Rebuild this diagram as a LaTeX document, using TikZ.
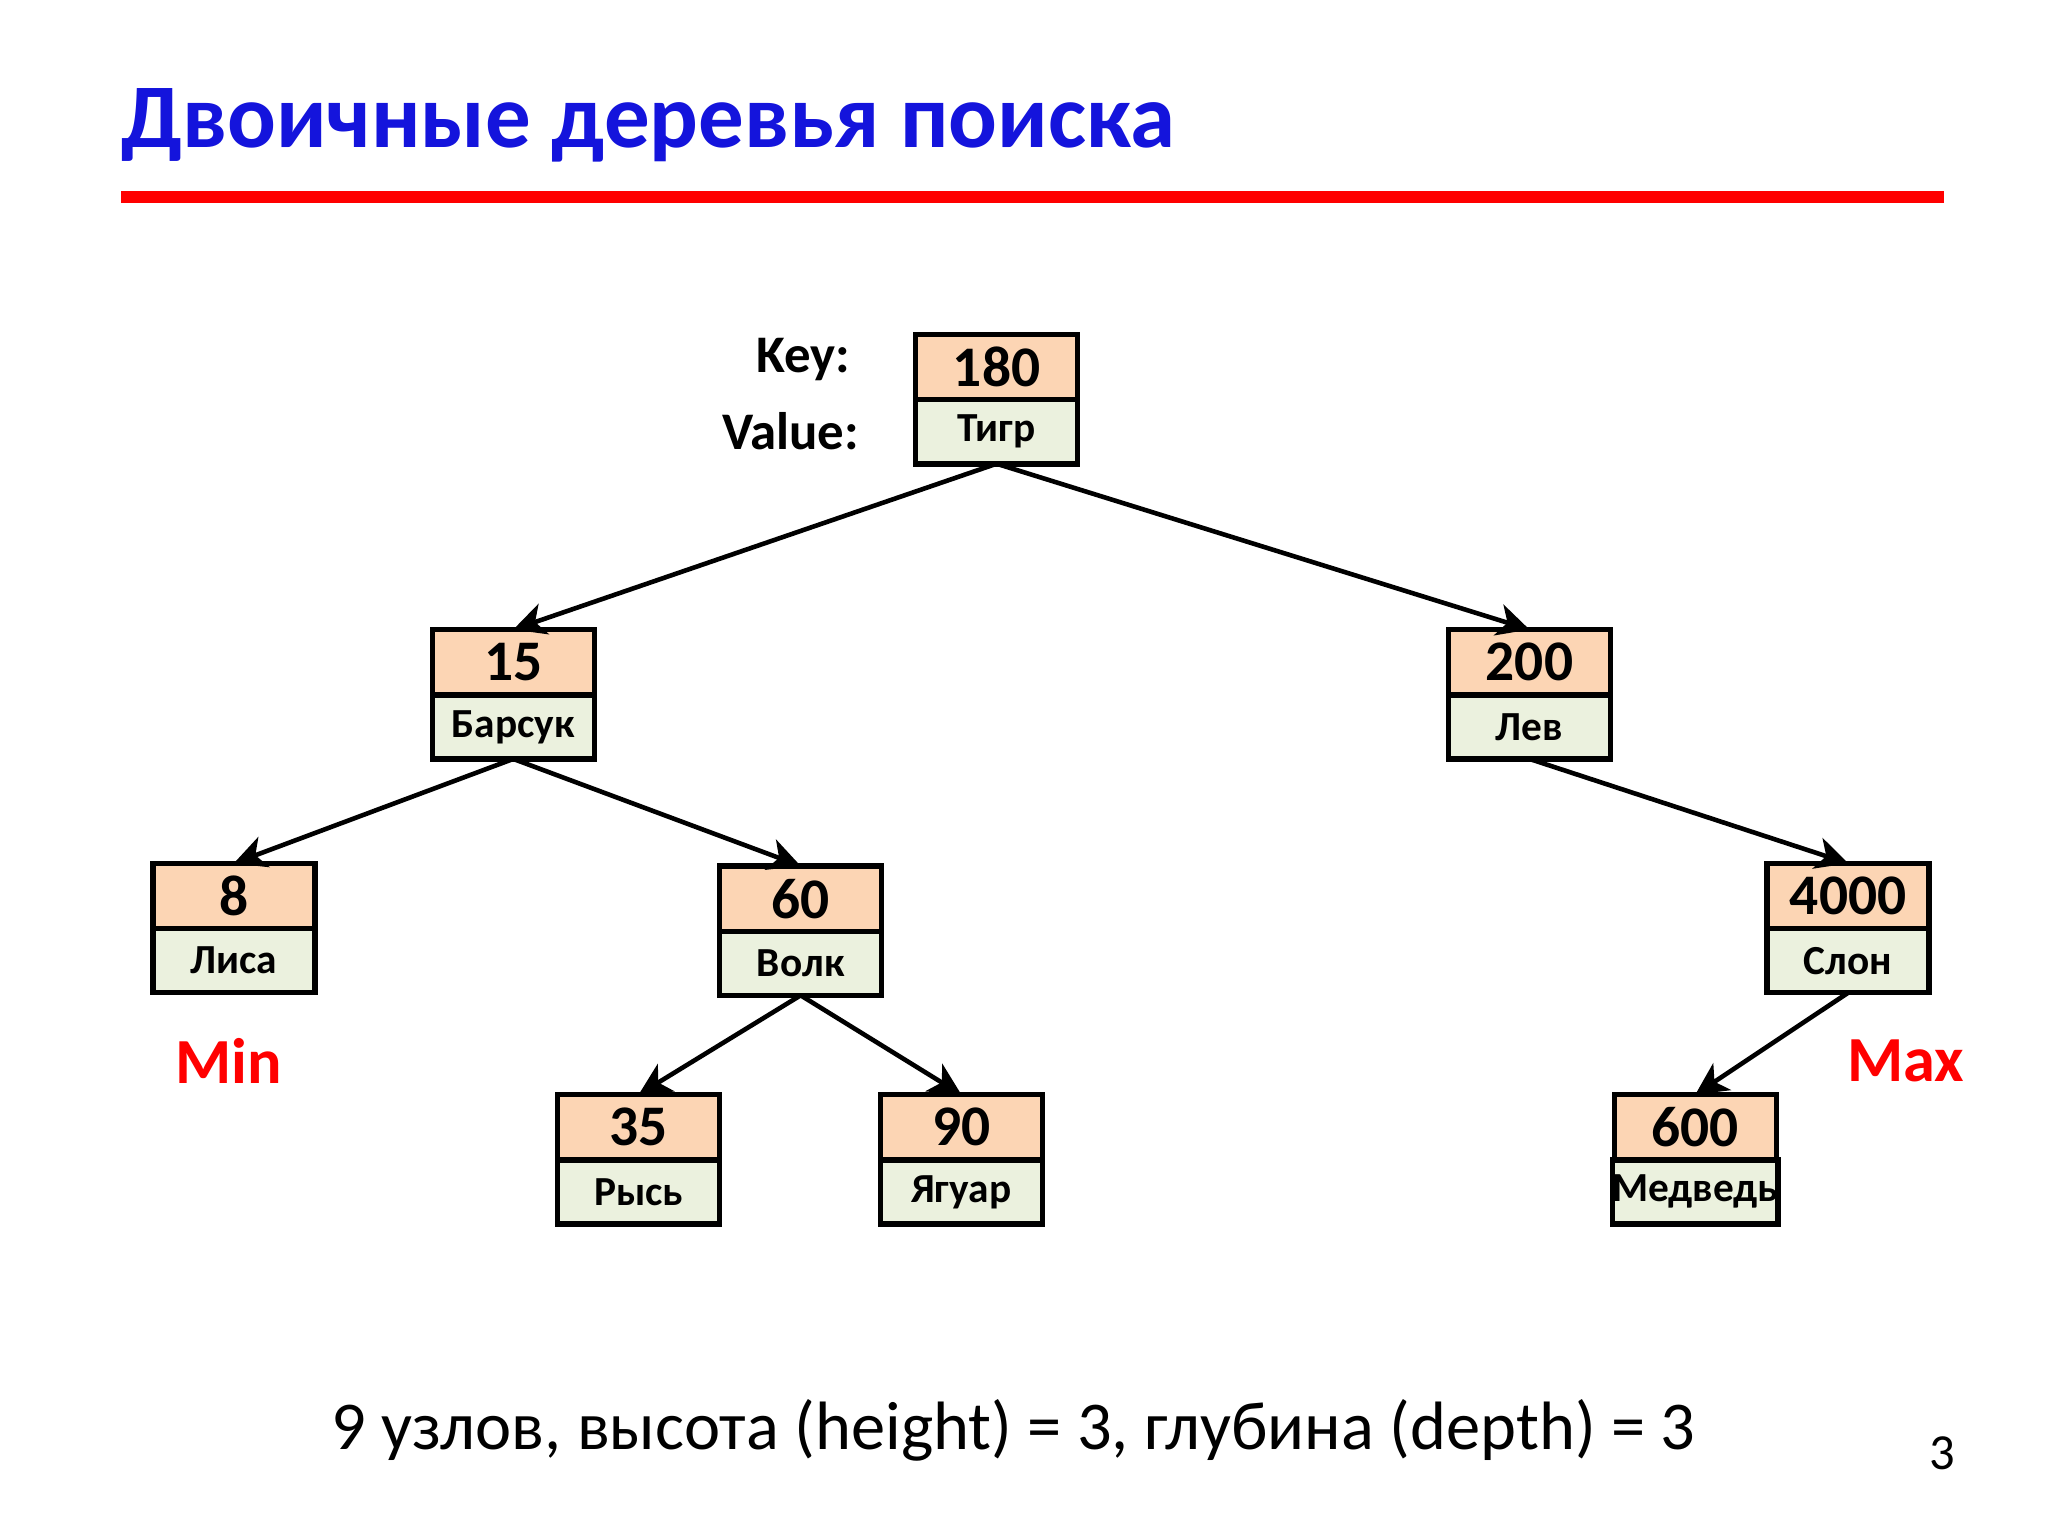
\documentclass[tikz,border=0pt]{standalone}
\usepackage{fontspec}
\setmainfont{Carlito}
\usetikzlibrary{arrows.meta}
\definecolor{titleblue}{RGB}{20,20,220}
\definecolor{keyfill}{RGB}{252,213,180}
\definecolor{valfill}{RGB}{235,241,222}
\tikzset{
	keybox/.style = {draw, line width=1.2pt, fill=keyfill, minimum width=1.24cm, minimum height=0.5cm, inner sep=0pt, outer sep=0pt, font=\fontsize{12.5}{13}\selectfont\bfseries, anchor=north},
	valbox/.style = {draw, line width=1.2pt, fill=valfill, minimum width=1.24cm, minimum height=0.49cm, inner sep=0pt, outer sep=0pt, font=\fontsize{9}{10}\selectfont\bfseries, anchor=north},
	edge/.style = {line width=1pt, -{Stealth[length=7pt,width=7pt,inset=2pt]}},
	extremum/.style = {text=red, font=\fontsize{14}{15}\selectfont\bfseries}
}
% key / value node pair
\newcommand{\bstnode}[5]{
	\node[keybox] (#1) at (#2,#3) {#4};
	\node[valbox] (#1v) at (#1.south) {#5};
}
\begin{document}
\begin{tikzpicture}[x=0.01cm,y=-0.01cm]
		\useasboundingbox[fill=white] (0,0) rectangle (1568,1176);
		\node[anchor=base west, text=titleblue, font=\fontsize{19.8}{21}\selectfont\bfseries, inner sep=0pt] (title) at (92,113) {Двоичные деревья поиска};
		\draw[red, line width=2.5pt] (93,151) -- (1488,151);

		\bstnode{n180}{763}{256}{180}{Тигр}
		\bstnode{n15}{393}{482}{15}{Барсук}
		\bstnode{n200}{1171}{482}{200}{Лев}
		\bstnode{n8}{179}{661}{8}{Лиса}
		\bstnode{n60}{613}{663}{60}{Волк}
		\bstnode{n4000}{1415}{661}{4000}{Слон}
		\bstnode{n35}{489}{838}{35}{Рысь}
		\bstnode{n90}{736}{838}{90}{Ягуар}
		\bstnode{n600}{1298}{838}{600}{Медведь}

		\draw[edge] (n180v.south) -- (n15.north);
		\draw[edge] (n180v.south) -- (n200.north);
		\draw[edge] (n15v.south) -- (n8.north);
		\draw[edge] (n15v.south) -- (n60.north);
		\draw[edge] (n200v.south) -- (n4000.north);
		\draw[edge] (n60v.south) -- (n35.north);
		\draw[edge] (n60v.south) -- (n90.north);
		\draw[edge] (n4000v.south) -- (n600.north);

		\node[anchor=east, font=\fontsize{11.5}{12}\selectfont\bfseries] (keylbl) at (663,275) {Key:};
		\node[anchor=east, font=\fontsize{11.5}{12}\selectfont\bfseries] (vallbl) at (670,330) {Value:};
		\node[extremum] (min) at (175,812) {Min};
		\node[extremum] (max) at (1459,812) {Max};

		\node[font=\fontsize{14.9}{16}\selectfont] (info) at (776,1095) {9 узлов, высота (height) = 3, глубина (depth) = 3};
		\node[font=\fontsize{11}{12}\selectfont] (page) at (1487,1113) {3};
\end{tikzpicture}
\end{document}
